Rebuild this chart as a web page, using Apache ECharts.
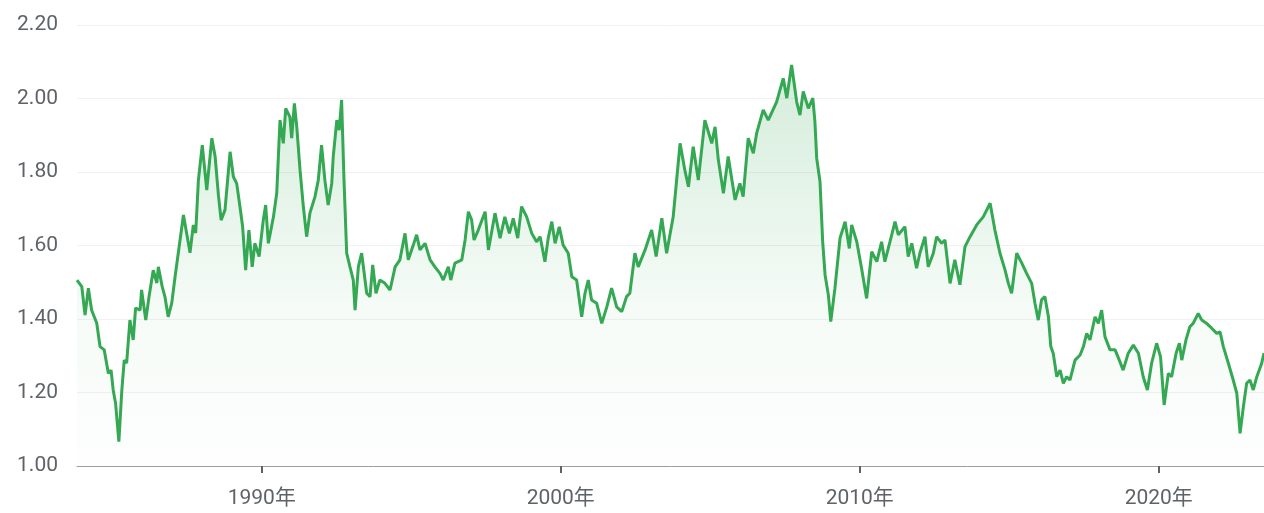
<!DOCTYPE html>
<html>
<head>
<meta charset="utf-8">
<script src="https://cdn.jsdelivr.net/npm/echarts@6/dist/echarts.min.js"></script>
<style>
html,body{margin:0;padding:0;background:#fff;}
#chart{width:1264px;height:513px;}
</style>
</head>
<body>
<div id="chart"></div>
<script>
// Decimal years of each sampled point
const years = [
1983.82,1983.98,1984.09,1984.20,1984.31,1984.48,1984.59,1984.73,1984.87,1984.96,
1985.03,1985.11,1985.22,1985.32,1985.40,1985.48,1985.59,1985.70,1985.78,1985.93,
1985.98,1986.12,1986.23,1986.37,1986.49,1986.54,1986.67,1986.76,1986.87,1986.99,
1987.10,1987.38,1987.60,1987.71,1987.79,1987.88,1988.01,1988.16,1988.33,1988.44,
1988.55,1988.64,1988.77,1988.94,1989.05,1989.16,1989.27,1989.36,1989.46,1989.57,
1989.68,1989.77,1989.91,1990.05,1990.13,1990.22,1990.39,1990.50,1990.61,1990.72,
1990.80,1990.94,1991.00,1991.09,1991.17,1991.28,1991.39,1991.50,1991.61,1991.78,
1991.89,1992.00,1992.11,1992.22,1992.34,1992.39,1992.51,1992.59,1992.67,1992.75,
1992.84,1992.95,1993.06,1993.12,1993.23,1993.34,1993.51,1993.62,1993.71,1993.82,
1993.95,1994.12,1994.29,1994.46,1994.62,1994.79,1994.90,1995.05,1995.18,1995.29,
1995.46,1995.63,1995.79,1995.96,1996.07,1996.24,1996.32,1996.46,1996.69,1996.80,
1996.91,1997.02,1997.10,1997.24,1997.47,1997.58,1997.80,1997.97,1998.13,1998.28,
1998.41,1998.56,1998.69,1998.86,1999.03,1999.19,1999.31,1999.47,1999.58,1999.70,
1999.81,1999.95,2000.08,2000.25,2000.37,2000.53,2000.70,2000.81,2000.92,2001.03,
2001.20,2001.37,2001.54,2001.70,2001.87,2002.04,2002.20,2002.31,2002.48,2002.59,
2002.82,2003.04,2003.19,2003.38,2003.54,2003.76,2003.99,2004.15,2004.27,2004.43,
2004.60,2004.82,2005.05,2005.16,2005.27,2005.44,2005.60,2005.83,2005.99,2006.10,
2006.27,2006.44,2006.55,2006.77,2006.94,2007.22,2007.44,2007.56,2007.72,2007.89,
2008.00,2008.11,2008.28,2008.43,2008.50,2008.56,2008.67,2008.76,2008.84,2008.95,
2009.03,2009.17,2009.34,2009.51,2009.65,2009.73,2009.90,2010.06,2010.23,2010.40,
2010.57,2010.73,2010.84,2011.01,2011.18,2011.29,2011.51,2011.62,2011.74,2011.90,
2012.01,2012.18,2012.29,2012.46,2012.57,2012.74,2012.85,2013.02,2013.18,2013.35,
2013.52,2013.69,2013.91,2014.13,2014.36,2014.52,2014.69,2014.86,2014.97,2015.08,
2015.25,2015.42,2015.58,2015.75,2015.86,2015.97,2016.08,2016.19,2016.31,2016.39,
2016.47,2016.59,2016.70,2016.81,2016.92,2017.03,2017.20,2017.37,2017.48,2017.59,
2017.70,2017.87,2017.98,2018.09,2018.20,2018.37,2018.54,2018.70,2018.81,2018.98,
2019.15,2019.32,2019.48,2019.62,2019.76,2019.93,2020.06,2020.18,2020.32,2020.43,
2020.58,2020.69,2020.77,2020.91,2021.04,2021.15,2021.32,2021.44,2021.60,2021.77,
2021.94,2022.05,2022.16,2022.33,2022.49,2022.61,2022.72,2022.83,2022.94,2023.05,
2023.16,2023.28,2023.44,2023.52
];
// Exchange rate values
const rates = [
1.506,1.488,1.411,1.484,1.424,1.389,1.325,1.316,1.252,1.261,
1.207,1.171,1.066,1.207,1.288,1.280,1.397,1.343,1.430,1.424,
1.479,1.397,1.461,1.533,1.498,1.542,1.488,1.461,1.406,1.444,
1.515,1.683,1.580,1.656,1.634,1.778,1.873,1.751,1.892,1.842,
1.737,1.669,1.697,1.855,1.787,1.769,1.706,1.651,1.533,1.642,
1.542,1.606,1.570,1.669,1.710,1.606,1.678,1.742,1.941,1.878,
1.973,1.950,1.892,1.987,1.923,1.805,1.706,1.624,1.688,1.733,
1.778,1.873,1.778,1.710,1.769,1.842,1.941,1.914,1.996,1.778,
1.579,1.542,1.506,1.424,1.542,1.579,1.470,1.461,1.547,1.470,
1.506,1.497,1.479,1.542,1.561,1.633,1.561,1.597,1.629,1.588,
1.606,1.561,1.542,1.524,1.506,1.542,1.506,1.552,1.561,1.615,
1.692,1.669,1.615,1.642,1.692,1.588,1.688,1.620,1.678,1.633,
1.674,1.620,1.706,1.678,1.633,1.610,1.624,1.556,1.620,1.665,
1.606,1.651,1.601,1.579,1.515,1.506,1.406,1.470,1.506,1.452,
1.443,1.388,1.433,1.484,1.433,1.420,1.461,1.470,1.579,1.542,
1.588,1.642,1.570,1.674,1.579,1.678,1.878,1.805,1.760,1.869,
1.778,1.941,1.878,1.923,1.833,1.742,1.842,1.724,1.769,1.733,
1.892,1.851,1.905,1.969,1.941,1.991,2.055,2.001,2.091,1.991,
1.955,2.019,1.973,2.001,1.937,1.837,1.774,1.610,1.520,1.465,
1.393,1.484,1.620,1.665,1.592,1.656,1.610,1.538,1.456,1.583,
1.556,1.610,1.556,1.610,1.665,1.629,1.651,1.570,1.606,1.538,
1.579,1.624,1.542,1.579,1.624,1.606,1.615,1.497,1.561,1.493,
1.597,1.624,1.656,1.678,1.715,1.642,1.579,1.533,1.497,1.470,
1.579,1.552,1.524,1.497,1.443,1.397,1.452,1.461,1.406,1.325,
1.307,1.243,1.261,1.225,1.243,1.234,1.288,1.302,1.325,1.361,
1.343,1.406,1.388,1.424,1.352,1.316,1.316,1.284,1.261,1.307,
1.329,1.307,1.243,1.207,1.279,1.334,1.297,1.166,1.252,1.243,
1.307,1.334,1.288,1.343,1.379,1.388,1.415,1.397,1.388,1.375,
1.361,1.365,1.325,1.279,1.234,1.198,1.089,1.161,1.225,1.234,
1.207,1.243,1.279,1.307
];
const xTickYears = [1990, 2000, 2010, 2020];
const yTicks = [1.00, 1.20, 1.40, 1.60, 1.80, 2.00, 2.20];

const seriesData = years.map((y, i) => [y, rates[i]]);

const chart = echarts.init(document.getElementById('chart'), null, {renderer: 'canvas'});
chart.setOption({
  animation: false,
  backgroundColor: '#ffffff',
  grid: {left: 77, right: 0, top: 25, bottom: 47, containLabel: false},
  xAxis: {
    type: 'value',
    min: years[0],
    max: years[years.length - 1],
    axisLine: {show: true, lineStyle: {color: '#9e9e9e', width: 1}},
    axisTick: {show: true, customValues: xTickYears, length: 7, lineStyle: {color: '#616161', width: 2}},
    axisLabel: {
      customValues: xTickYears,
      formatter: v => Math.round(v) + '年',
      color: '#5f6368',
      fontSize: 21,
      fontFamily: 'Roboto, "Noto Sans CJK SC", sans-serif',
      margin: 22
    },
    splitLine: {show: false}
  },
  yAxis: {
    type: 'value',
    min: yTicks[0],
    max: yTicks[yTicks.length - 1],
    interval: 0.2,
    axisLine: {show: false},
    axisTick: {show: false},
    axisLabel: {
      formatter: v => v.toFixed(2),
      color: '#5f6368',
      fontSize: 21,
      fontFamily: 'Roboto, sans-serif',
      margin: 19
    },
    splitLine: {show: true, lineStyle: {color: '#f1f1f1', width: 1}}
  },
  series: [{
    type: 'line',
    data: seriesData,
    showSymbol: false,
    symbol: 'none',
    lineStyle: {color: '#34a853', width: 3},
    areaStyle: {
      color: new echarts.graphic.LinearGradient(0, 0, 0, 1, [
        {offset: 0, color: 'rgba(52,168,83,0.30)'},
        {offset: 0.6, color: 'rgba(52,168,83,0.07)'},
        {offset: 1, color: 'rgba(52,168,83,0.01)'}
      ])
    }
  }]
});
</script>
</body>
</html>
